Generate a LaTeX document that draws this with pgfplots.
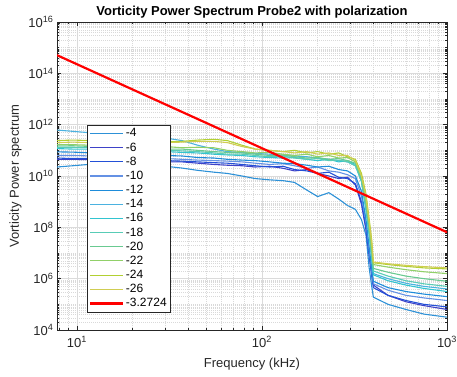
\documentclass[border=0pt]{standalone}
\usepackage{fontspec}
\setmainfont{Liberation Sans}
\usepackage{pgfplots}
\usepackage{pgfplotstable}
\pgfplotsset{compat=1.18}

\definecolor{c4}{RGB}{45,145,215}
\definecolor{c6}{RGB}{62,66,200}
\definecolor{c8}{RGB}{35,80,215}
\definecolor{c10}{RGB}{100,145,228}
\definecolor{c12}{RGB}{30,140,218}
\definecolor{c14}{RGB}{75,178,224}
\definecolor{c16}{RGB}{50,196,208}
\definecolor{c18}{RGB}{88,204,182}
\definecolor{c20}{RGB}{105,202,145}
\definecolor{c22}{RGB}{145,208,105}
\definecolor{c24}{RGB}{178,208,50}
\definecolor{c26}{RGB}{208,205,82}

\def\yminor{}
\foreach \e in {4,...,15}{\foreach \m in {2,...,9}{\xdef\yminor{\yminor\m e\e,}}}

\pgfplotstableread{
x       s4      s6      s8      s10     s12     s14     s16     s18     s20     s22     s24     s26
7.8125  2.24e10 4.47e10 5.01e10 6.31e10 8.71e10 6.17e11 1.17e11 1.32e11 1.48e11 1.66e11 2.40e11 2.00e11
9.5     2.51e10 4.47e10 4.79e10 6.31e10 8.51e10 5.50e11 1.12e11 1.32e11 1.51e11 1.66e11 2.51e11 2.09e11
12      2.88e10 4.27e10 4.79e10 6.03e10 7.94e10 4.79e11 1.12e11 1.26e11 1.41e11 1.58e11 2.40e11 2.00e11
15      3.16e10 4.17e10 4.47e10 5.62e10 7.59e10 4.17e11 1.05e11 1.20e11 1.32e11 1.51e11 2.24e11 1.91e11
19      3.02e10 3.98e10 4.27e10 5.25e10 7.08e10 3.72e11 1.00e11 1.12e11 1.26e11 1.41e11 2.14e11 1.91e11
24      2.75e10 3.80e10 3.98e10 5.01e10 6.61e10 3.31e11 9.55e10 1.05e11 1.20e11 1.32e11 2.24e11 2.00e11
30      2.40e10 3.55e10 3.98e10 4.79e10 6.31e10 3.02e11 8.91e10 1.00e11 1.12e11 1.41e11 2.14e11 2.00e11
37      2.04e10 3.55e10 3.80e10 4.47e10 6.03e10 2.40e11 8.32e10 9.55e10 1.12e11 1.26e11 2.24e11 2.09e11
45      1.66e10 3.16e10 3.55e10 4.17e10 5.25e10 1.58e11 7.94e10 8.91e10 1.00e11 1.32e11 2.51e11 2.24e11
55      1.41e10 2.82e10 3.31e10 3.98e10 5.01e10 1.12e11 7.08e10 7.94e10 8.91e10 1.26e11 2.69e11 2.24e11
65      1.26e10 2.63e10 3.16e10 3.80e10 4.47e10 8.91e10 6.61e10 7.08e10 8.32e10 1.00e11 2.40e11 2.00e11
78      1.00e10 2.51e10 2.82e10 3.55e10 4.17e10 8.32e10 6.31e10 7.08e10 7.94e10 8.91e10 1.58e11 1.41e11
92      7.94e9  2.24e10 2.51e10 3.16e10 3.98e10 7.59e10 5.62e10 6.31e10 7.08e10 7.94e10 1.12e11 1.12e11
110     7.08e9  2.40e10 2.24e10 2.82e10 3.55e10 7.08e10 5.25e10 5.62e10 6.31e10 8.32e10 1.00e11 1.00e11
130     6.61e9  2.00e10 2.40e10 3.02e10 3.16e10 6.31e10 5.01e10 6.03e10 6.61e10 7.08e10 8.91e10 8.91e10
150     5.62e9  1.58e10 1.78e10 2.51e10 3.02e10 6.03e10 5.25e10 5.01e10 5.62e10 6.31e10 1.00e11 7.94e10
175     2.82e9  1.78e10 1.58e10 2.00e10 2.63e10 5.62e10 4.47e10 4.47e10 5.01e10 7.08e10 7.94e10 8.91e10
200     1.58e9  1.26e10 1.26e10 2.24e10 2.24e10 5.01e10 3.98e10 4.79e10 5.25e10 5.62e10 8.91e10 7.08e10
230     2.24e9  1.00e10 1.41e10 1.58e10 2.40e10 4.47e10 4.47e10 3.98e10 4.47e10 6.31e10 7.08e10 7.94e10
260     1.26e9  7.94e9  8.91e9  1.41e10 1.78e10 3.98e10 3.55e10 4.17e10 4.79e10 5.01e10 7.94e10 6.31e10
290     7.08e8  8.91e9  7.94e9  1.12e10 1.58e10 3.55e10 3.98e10 3.55e10 3.98e10 5.25e10 5.62e10 6.31e10
320     5.01e8  4.47e9  5.01e9  7.94e9  1.00e10 2.51e10 2.82e10 2.51e10 3.16e10 3.55e10 4.47e10 3.98e10
345     2.00e8  7.94e8  1.00e9  1.58e9  2.51e9  6.31e9  6.31e9  6.31e9  7.94e9  1.00e10 1.26e10 1.00e10
365     5.01e7  7.94e7  1.00e8  1.58e8  2.00e8  5.01e8  5.01e8  6.31e8  7.94e8  1.26e9  2.00e9  1.58e9
380     2.51e6  7.94e6  7.94e6  1.26e7  1.58e7  5.01e7  5.01e7  6.31e7  7.94e7  1.26e8  2.00e8  1.58e8
392     5.01e5  1.58e6  1.26e6  2.00e6  2.51e6  6.31e6  6.31e6  7.94e6  1.00e7  1.58e7  3.16e7  2.51e7
400     1.91e5  5.62e5  4.47e5  6.31e5  7.94e5  1.58e6  1.41e6  2.00e6  2.51e6  3.55e6  4.17e6  4.47e6
480     1.00e5  2.24e5  2.24e5  3.55e5  4.47e5  1.00e6  8.32e5  1.26e6  1.78e6  2.82e6  3.55e6  3.80e6
600     6.31e4  1.26e5  1.41e5  2.24e5  3.16e5  6.61e5  5.62e5  8.32e5  1.26e6  2.24e6  3.02e6  3.31e6
750     4.17e4  8.91e4  1.00e5  1.78e5  2.51e5  5.01e5  4.17e5  6.31e5  1.00e6  1.86e6  2.63e6  2.95e6
1000    3.16e4  6.31e4  7.94e4  1.41e5  2.00e5  3.98e5  3.16e5  5.01e5  7.94e5  1.58e6  2.40e6  2.63e6
}\spec

\begin{document}
\begin{tikzpicture}
\useasboundingbox (0,0) rectangle (457pt,376pt);
\begin{axis}[
  at={(57pt,46pt)}, anchor=south west,
  scale only axis, width=390pt, height=308pt,
  xmode=log, ymode=log, log basis x=10, log basis y=10,
  xmin=7.8125, xmax=1000, ymin=1e4, ymax=1e16,
  xtick={10,100,1000},
  xticklabels={10\textsuperscript{1},10\textsuperscript{2},10\textsuperscript{3}},
  minor xtick={8,9,20,30,40,50,60,70,80,90,200,300,400,500,600,700,800,900},
  ytick={1e4,1e6,1e8,1e10,1e12,1e14,1e16},
  yticklabels={10\textsuperscript{4},10\textsuperscript{6},10\textsuperscript{8},10\textsuperscript{10},10\textsuperscript{12},10\textsuperscript{14},10\textsuperscript{16}},
  minor ytick/.expanded={\yminor 1e5,1e7,1e9,1e11,1e13,1e15},
  grid=both,
  major grid style={color=black!14, line width=0.5pt},
  minor grid style={color=black!15, line width=0.4pt, dash pattern=on 0.8pt off 1.2pt},
  tick align=inside,
  axis line style={black!85, line width=0.6pt},
  tick style={black!85, line width=0.5pt},
  major tick length=4pt, minor tick length=2.2pt,
  title={Vorticity Power Spectrum Probe2 with polarization},
  title style={font=\fontsize{13}{15}\selectfont\bfseries, yshift=-6pt},
  xlabel={Frequency (kHz)},
  ylabel={Vorticity Power spectrum},
  xlabel style={yshift=-4pt},
  label style={font=\fontsize{13}{15}\selectfont, text=black!85},
  tick label style={font=\fontsize{13}{15}\selectfont, text=black!85},
  xticklabel style={yshift=-3pt},
  legend style={at={(0.077,0.666)}, anchor=north west, draw=black!85, fill=white,
    font=\fontsize{12}{14}\selectfont, line width=0.5pt, inner sep=1.5pt, row sep=0.3pt},
  legend cell align=left,
  legend image code/.code={\draw[#1] (0pt,0pt) -- (33pt,0pt);},
]
\addplot[color=c4,  no markers, line width=1.1pt] table[x=x,y=s4]  {\spec};
\addplot[color=c6,  no markers, line width=1.1pt] table[x=x,y=s6]  {\spec};
\addplot[color=c8,  no markers, line width=1.1pt] table[x=x,y=s8]  {\spec};
\addplot[color=c10, no markers, line width=1.1pt] table[x=x,y=s10] {\spec};
\addplot[color=c12, no markers, line width=1.1pt] table[x=x,y=s12] {\spec};
\addplot[color=c14, no markers, line width=1.1pt] table[x=x,y=s14] {\spec};
\addplot[color=c16, no markers, line width=1.1pt] table[x=x,y=s16] {\spec};
\addplot[color=c18, no markers, line width=1.1pt] table[x=x,y=s18] {\spec};
\addplot[color=c20, no markers, line width=1.1pt] table[x=x,y=s20] {\spec};
\addplot[color=c22, no markers, line width=1.1pt] table[x=x,y=s22] {\spec};
\addplot[color=c24, no markers, line width=1.1pt] table[x=x,y=s24] {\spec};
\addplot[color=c26, no markers, line width=1.1pt] table[x=x,y=s26] {\spec};
\addplot[color=red, no markers, line width=2.2pt] coordinates {(7.8125,5.1e14) (1000,6.45e7)};
\legend{-4,-6,-8,-10,-12,-14,-16,-18,-20,-22,-24,-26,-3.2724}
\end{axis}
\end{tikzpicture}
\end{document}
